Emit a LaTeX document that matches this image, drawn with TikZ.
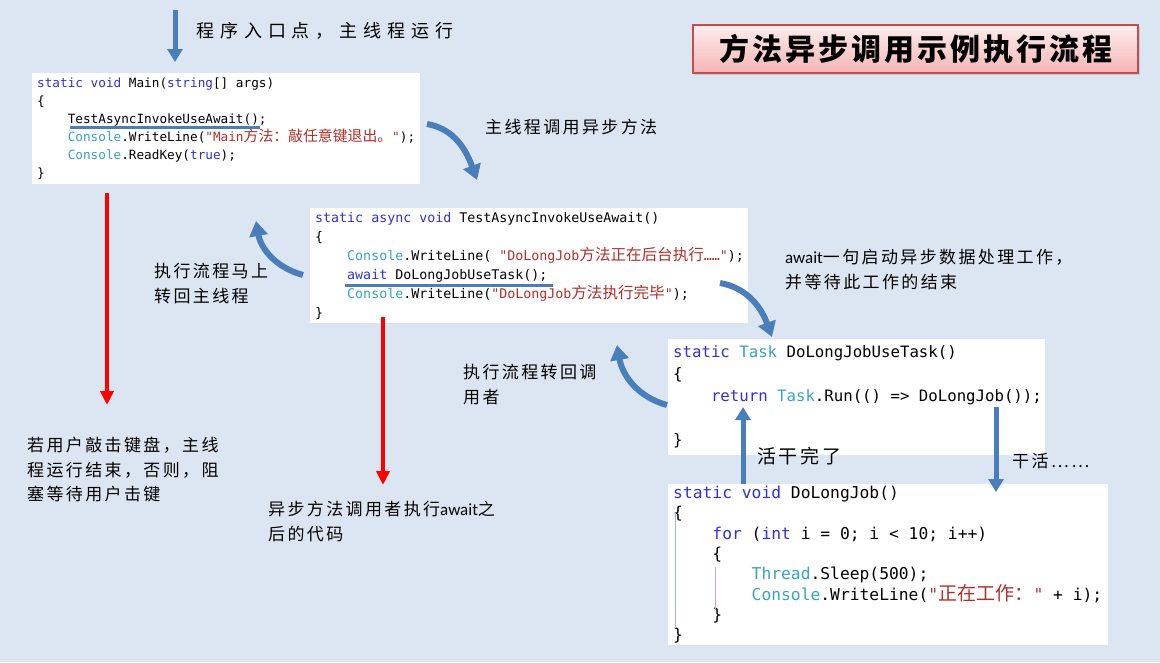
\documentclass[tikz,border=0pt]{standalone}
\usepackage{fontspec}
\setmonofont{DejaVu Sans Mono}
\newfontfamily\cjk{Noto Sans CJK SC}
\newfontfamily\codecjk[Scale=1.17]{Noto Sans CJK SC}
\newfontfamily\lblfont[LetterSpace=14]{Noto Sans CJK SC}
\newfontfamily\lblwide[LetterSpace=33]{Noto Sans CJK SC}
\newfontfamily\titlefont[LetterSpace=10]{Noto Sans CJK SC}
\newfontfamily\latinfont{Carlito}
\usetikzlibrary{arrows.meta,positioning,calc,shadows}
\definecolor{Canvas}{HTML}{DCE6F2}
\definecolor{Flow}{HTML}{4A7EBB}
\definecolor{Halt}{HTML}{FF0000}
\definecolor{Keyword}{HTML}{3232C8}
\definecolor{TypeName}{HTML}{3AA3C0}
\definecolor{StrLit}{HTML}{B0302A}
\definecolor{TitleLine}{HTML}{C0504D}
\definecolor{TitleTop}{HTML}{FDEDED}
\definecolor{TitleBot}{HTML}{F5B5B5}
\definecolor{GuideA}{HTML}{9DB8E8}
\definecolor{GuideB}{HTML}{C8A8D8}
\newcommand\kwd[1]{\textcolor{Keyword}{#1}}
\newcommand\tyname[1]{\textcolor{TypeName}{#1}}
\newcommand\strlit[1]{\textcolor{StrLit}{#1}}
\newcommand\zh[1]{{\codecjk #1}}
\newcommand\sk{\phantom{x}}
\newcommand\codeind{\phantom{xxxx}}
\tikzset{
  codebox/.style={fill=white,anchor=north west,inner xsep=5pt,inner ysep=0pt,align=left},
  titlebox/.style={draw=TitleLine,line width=1.2pt,top color=TitleTop,bottom color=TitleBot,drop shadow={opacity=.25},minimum width=445pt,minimum height=48pt},
  note/.style={anchor=north west,inner sep=0pt,align=left,font=\lblfont\fontsize{17}{24.5}\selectfont},
  flowarr/.style={-{Triangle[length=13pt,width=15pt]},line width=5pt,draw=Flow},
  bendarr/.style={-{Triangle[length=15pt,width=18pt]},line width=6pt,draw=Flow},
  haltarr/.style={-{Triangle[length=14pt,width=13pt]},line width=4pt,draw=Halt},
  mark line/.style={draw=Flow,line width=3pt}
}
\begin{document}
\begin{tikzpicture}[x=1pt,y=1pt]
  \fill[Canvas] (0,0) rectangle (1160,-662);
  \useasboundingbox (0,0) rectangle (1160,-662);
  \node[titlebox] (title) at (915.5,-49) {\titlefont\bfseries\fontsize{30}{34}\selectfont 方法异步调用示例执行流程};
  \node[codebox,text width=378pt,minimum height=111pt,font=\ttfamily\fontsize{12.7}{18}\selectfont] (mainbox) at (32,-73) {%
\kwd{static}\sk\kwd{void}\sk Main(\kwd{string}[]\sk args)\\
\{\\
\codeind TestAsyncInvokeUseAwait();\\
\codeind\tyname{Console}.WriteLine(\strlit{"Main\zh{方法：敲任意键退出。}"});\\
\codeind\tyname{Console}.ReadKey(\kwd{true});\\
\}};
  \node[codebox,text width=428pt,minimum height=115pt,font=\ttfamily\fontsize{13.3}{19}\selectfont] (asyncbox) at (310,-208) {%
\kwd{static}\sk\kwd{async}\sk\kwd{void}\sk TestAsyncInvokeUseAwait()\\
\{\\
\codeind\tyname{Console}.WriteLine(\sk\strlit{"DoLongJob\zh{方法正在后台执行}……"});\\
\codeind\kwd{await}\sk DoLongJobUseTask();\\
\codeind\tyname{Console}.WriteLine(\strlit{"DoLongJob\zh{方法执行完毕}"});\\
\}};
  \node[codebox,text width=367pt,minimum height=116pt,font=\ttfamily\fontsize{15.7}{22}\selectfont] (taskbox) at (668,-339) {%
\kwd{static}\sk\tyname{Task}\sk DoLongJobUseTask()\\
\{\\
\codeind\kwd{return}\sk\tyname{Task}.Run(()\sk=>\sk DoLongJob());\\
\mbox{}\\
\}};
  \node[codebox,text width=430pt,minimum height=161pt,font=\ttfamily\fontsize{16.3}{20.3}\selectfont] (jobbox) at (668,-484) {%
\kwd{static}\sk\kwd{void}\sk DoLongJob()\\
\{\\
\codeind\kwd{for}\sk(\kwd{int}\sk i\sk=\sk0;\sk i\sk<\sk10;\sk i++)\\
\codeind\{\\
\codeind\codeind\tyname{Thread}.Sleep(500);\\
\codeind\codeind\tyname{Console}.WriteLine(\strlit{"\zh{正在工作：}"}\sk+\sk i);\\
\codeind\}\\
\}};
  \draw[mark line] (70,-127) -- (260,-127);
  \draw[mark line] (345,-285) -- (553,-285);
  \draw[GuideA,line width=1pt] (675,-513) -- (675,-628);
  \draw[GuideB,line width=1pt] (715,-567) -- (715,-610);
  \node[note,font=\lblwide\fontsize{18}{24}\selectfont] (entrynote) at (196,-22) {程序入口点，主线程运行};
  \node[note] (callnote) at (485,-119) {主线程调用异步方法};
  \node[note] (backnote) at (154,-263) {执行流程马上\\转回主线程};
  \node[note] (keynote) at (27,-437) {若用户敲击键盘，主线\\程运行结束，否则，阻\\塞等待用户击键};
  \node[note] (afternote) at (268,-501) {异步方法调用者执行{\latinfont await}之\\后的代码};
  \node[note] (awaitnote) at (785,-249) {{\latinfont await}一句启动异步数据处理工作，\\并等待此工作的结束};
  \node[note] (returnnote) at (463,-364) {执行流程转回调\\用者};
  \node[note,font=\lblfont\fontsize{19}{24}\selectfont] (donenote) at (757,-447) {活干完了};
  \node[note] (worknote) at (1012,-453) {干活……};
  \coordinate (entrytop) at (175,-10);\coordinate (entrytip) at (175,-62);
  \coordinate (mainout) at (107,-193);\coordinate (mainend) at (107,-405);
  \coordinate (asyncout) at (383,-317);\coordinate (asyncend) at (383,-485);
  \coordinate (callfrom) at (427,-124);\coordinate (callto) at (477,-180);
  \coordinate (backfrom) at (303,-275);\coordinate (backto) at (256,-221);
  \coordinate (awaitfrom) at (720,-283);\coordinate (awaitto) at (772,-337);
  \coordinate (retfrom) at (667,-405);\coordinate (retto) at (617,-345);
  \coordinate (doneto) at (743,-407);\coordinate (workfrom) at (996,-407);\coordinate (workto) at (996,-492);
  \draw[flowarr] (entrytop) -- (entrytip);
  \draw[haltarr] (mainout) -- (mainend);
  \draw[haltarr] (asyncout) -- (asyncend);
  \draw[bendarr] (callfrom) to[out=-10,in=110] (callto);
  \draw[bendarr] (backfrom) to[out=165,in=-80] (backto);
  \draw[bendarr] (awaitfrom) to[out=-10,in=110] (awaitto);
  \draw[bendarr] (retfrom) to[out=165,in=-80] (retto);
  \draw[flowarr] (jobbox.north -| doneto) -- (doneto);
  \draw[flowarr] (workfrom) -- (workto);
\end{tikzpicture}
\end{document}
